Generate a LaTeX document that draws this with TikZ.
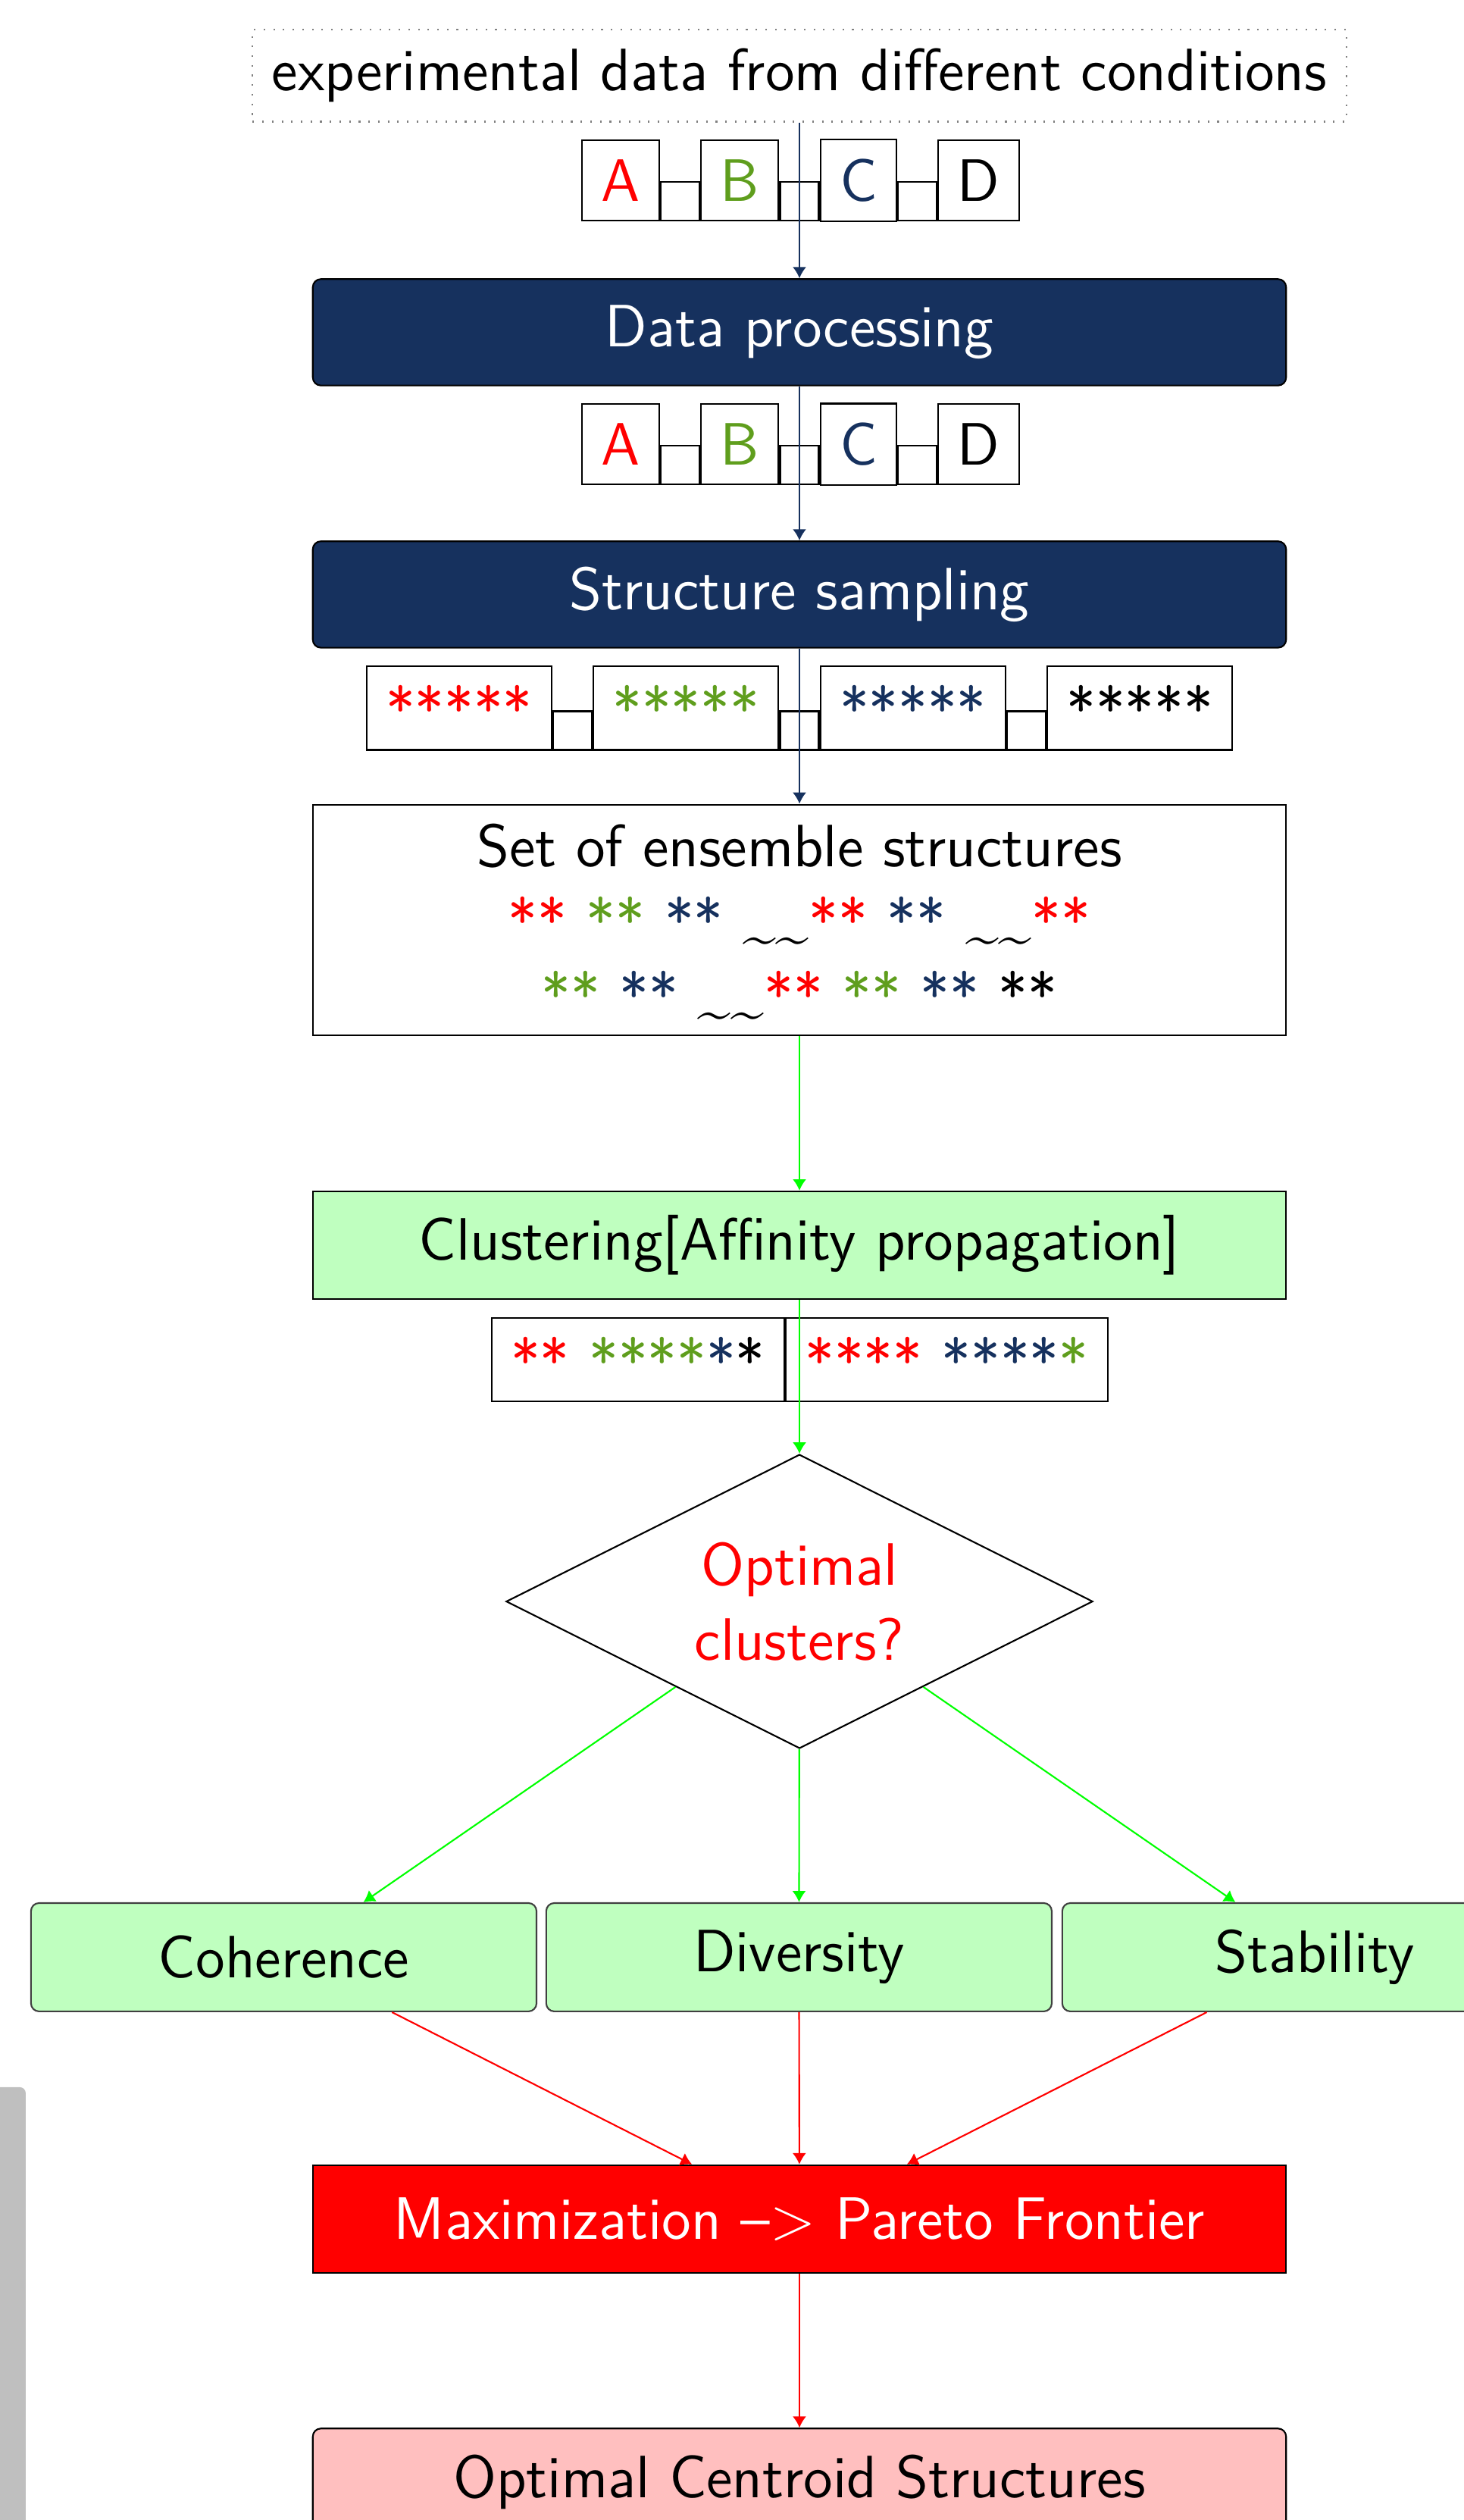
\documentclass[tikz,border=0pt]{standalone}
\usepackage{tikz}
\usetikzlibrary{positioning, arrows.meta, shapes, calc}
\renewcommand{\familydefault}{\sfdefault}
\definecolor{deepblue}{RGB}{22,49,94}
\definecolor{leafgreen}{RGB}{95,158,29}
\newcommand{\wave}{\raisebox{-0.25em}[0pt][0pt]{\textasciitilde\textasciitilde}}

\begin{document}
\begin{tikzpicture}[
    font=\fontsize{14.88pt}{18.6pt}\selectfont,
    inner sep=4.8pt,
    datanode/.style={rectangle, draw=gray, dotted},
    letter/.style={rectangle, draw},
    gapbox/.style={rectangle, draw},
    process/.style={rectangle, rounded corners=2pt, draw, fill=deepblue, text=white, minimum width=8.51cm, minimum height=0.93cm},
    plainbox/.style={rectangle, draw, minimum width=8.51cm},
    cluster/.style={rectangle, draw, fill=green!25, minimum width=8.51cm, minimum height=0.94cm},
    decision/.style={diamond, aspect=2, draw, text=red, align=center, inner sep=0pt, minimum width=5.13cm, minimum height=2.57cm},
    criterion/.style={rectangle, rounded corners=2pt, draw=darkgray, fill=green!25, minimum width=4.42cm, minimum height=0.947cm},
    pareto/.style={rectangle, draw, fill=red, text=white, minimum width=8.51cm, minimum height=0.94cm},
    result/.style={rectangle, rounded corners=2pt, draw, fill=red!25, minimum width=8.51cm, minimum height=0.94cm},
    bluearrow/.style={-{Latex[length=2.8pt, width=3.4pt]}, deepblue},
    greenarrow/.style={-{Latex[length=2.8pt, width=3.4pt]}, green},
    redarrow/.style={-{Latex[length=2.8pt, width=3.4pt]}, red}
]
    \useasboundingbox (0,0) rectangle (12.8,-22.03);
    \fill[gray!50, rounded corners=1.5pt] (-0.2,-22.3) rectangle (0.225,-18.246);

    \node[datanode] (src) at (6.99,-0.66) {experimental data from different conditions};

    % conditions before processing
    \node[letter, below=0.15cm of src, anchor=north east, xshift=-5pt] (rb) {\textcolor{leafgreen}{B}};
    \node[gapbox, base left=0pt of rb] (rg1) {};
    \node[letter, base left=0pt of rg1] (ra) {\textcolor{red}{A}};
    \node[gapbox, base right=0pt of rb] (rg2) {};
    \node[letter, base right=0pt of rg2] (rc) {\textcolor{deepblue}{C}};
    \node[gapbox, base right=0pt of rc] (rg3) {};
    \node[letter, base right=0pt of rg3] (rd) {D};

    \node[process] (dp) at (6.99,-2.905) {Data processing};

    % conditions after processing
    \node[letter, below=0.15cm of dp, anchor=north east, xshift=-5pt] (pb) {\textcolor{leafgreen}{B}};
    \node[gapbox, base left=0pt of pb] (pg1) {};
    \node[letter, base left=0pt of pg1] (pa) {\textcolor{red}{A}};
    \node[gapbox, base right=0pt of pb] (pg2) {};
    \node[letter, base right=0pt of pg2] (pc) {\textcolor{deepblue}{C}};
    \node[gapbox, base right=0pt of pc] (pg3) {};
    \node[letter, base right=0pt of pg3] (pd) {D};

    \node[process] (ss) at (6.99,-5.197) {Structure sampling};

    % sampled structures
    \node[letter, below=0.15cm of ss, anchor=north east, xshift=-5pt] (sb) {\textcolor{leafgreen}{*****}};
    \node[gapbox, base left=0pt of sb] (sg1) {};
    \node[letter, base left=0pt of sg1] (sa) {\textcolor{red}{*****}};
    \node[gapbox, base right=0pt of sb] (sg2) {};
    \node[letter, base right=0pt of sg2] (sc) {\textcolor{deepblue}{*****}};
    \node[gapbox, base right=0pt of sc] (sg3) {};
    \node[letter, base right=0pt of sg3] (sd) {*****};

    \node[plainbox, align=center] (ens) at (6.99,-8.043) {Set of ensemble structures\\
        \textcolor{red}{**} \textcolor{leafgreen}{**} \textcolor{deepblue}{**} \wave\textcolor{red}{**} \textcolor{deepblue}{**} \wave\textcolor{red}{**}\\
        \textcolor{leafgreen}{**} \textcolor{deepblue}{**} \wave\textcolor{red}{**} \textcolor{leafgreen}{**} \textcolor{deepblue}{**} **};

    \node[cluster] (clu) at (6.99,-10.885) {Clustering[Affinity propagation]};

    % clusters
    \node[letter, below=0.15cm of clu, anchor=north east, xshift=-3.6pt] (cl1) {\textcolor{red}{**} \textcolor{leafgreen}{****}\textcolor{deepblue}{*}*};
    \node[letter, base right=0pt of cl1] (cl2) {\textcolor{red}{****} \textcolor{deepblue}{****}\textcolor{leafgreen}{*}};

    \node[decision] (opt) at (6.99,-14.0) {Optimal\\clusters?};

    \node[criterion] (coh) at (2.481,-17.11) {Coherence};
    \node[criterion] (div) at (6.986,-17.11) {Diversity};
    \node[criterion] (stab) at (11.498,-17.11) {Stability};

    \node[pareto] (front) at (6.99,-19.398) {Maximization \textendash> Pareto Frontier};
    \node[result] (ocs) at (6.99,-21.70) {Optimal Centroid Structures};

    \draw[bluearrow] (src) -- (dp);
    \draw[bluearrow] (dp) -- (ss);
    \draw[bluearrow] (ss) -- (ens);
    \draw[greenarrow] (ens) -- (clu);
    \draw[greenarrow] (clu) -- (opt);
    \draw[greenarrow] (opt) -- (coh);
    \draw[greenarrow] (opt) -- (div);
    \draw[greenarrow] (opt) -- (stab);
    \draw[redarrow] (coh) -- (front);
    \draw[redarrow] (div) -- (front);
    \draw[redarrow] (stab) -- (front);
    \draw[redarrow] (front) -- (ocs);
\end{tikzpicture}
\end{document}
